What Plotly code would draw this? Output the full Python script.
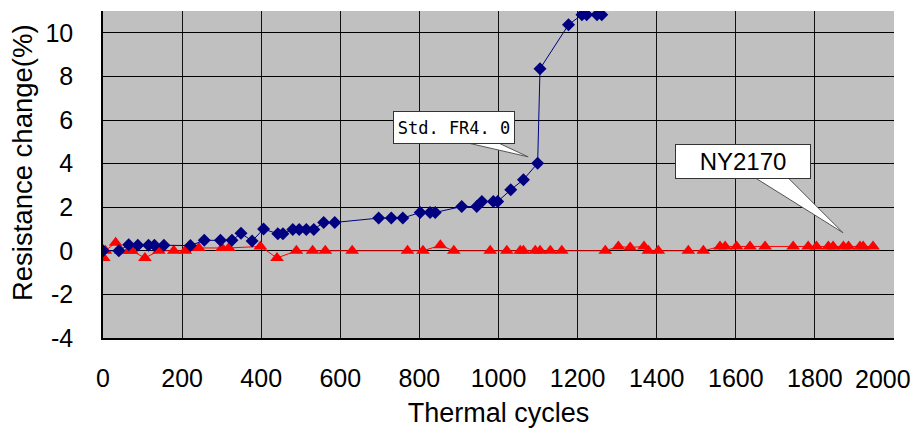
import plotly.graph_objects as go

# Std. FR4 (blue diamonds)
fr4_cycles = [0, 40, 65, 88, 115, 130, 154, 221, 256, 297, 326, 349, 377, 406, 442, 455,
              480, 496, 514, 533, 558, 586, 697, 729, 758, 802, 827, 840, 907, 945, 958,
              987, 998, 1031, 1063, 1099, 1105, 1177, 1211, 1223, 1249, 1261, 1268]
fr4_change = [0.0, 0.0, 0.28, 0.26, 0.26, 0.26, 0.26, 0.24, 0.48, 0.48, 0.48, 0.8, 0.45,
              1.0, 0.78, 0.78, 0.98, 0.98, 0.98, 0.98, 1.3, 1.3, 1.5, 1.5, 1.5, 1.76, 1.76,
              1.76, 2.03, 2.03, 2.26, 2.26, 2.26, 2.8, 3.26, 4.02, 8.35, 10.37, 10.83,
              10.83, 10.83, 10.83, 14.0]

# NY2170 (red triangles)
ny_cycles = [2, 6, 32, 45, 65, 73, 106, 141, 179, 208, 242, 301, 318, 398, 440, 489, 530,
             562, 630, 770, 809, 853, 887, 979, 1021, 1055, 1063, 1093, 1105, 1131, 1160,
             1270, 1303, 1333, 1368, 1379, 1404, 1480, 1518, 1560, 1573, 1602, 1636, 1674,
             1745, 1783, 1804, 1834, 1846, 1872, 1885, 1914, 1922, 1947]
ny_change = [-0.33, 0.0, 0.37, 0.0, 0.0, 0.0, -0.33, 0.0, 0.0, 0.0, 0.13, 0.13, 0.13, 0.2,
             -0.33, 0.0, 0.0, 0.0, 0.0, 0.0, 0.0, 0.25, 0.0, 0.0, 0.0, 0.0, 0.0, 0.0, 0.0,
             0.0, 0.0, 0.0, 0.2, 0.15, 0.2, 0.0, 0.0, 0.0, 0.0, 0.2, 0.2, 0.2, 0.2, 0.2,
             0.2, 0.2, 0.2, 0.2, 0.2, 0.2, 0.2, 0.2, 0.2, 0.2]

x_ticks = [0, 200, 400, 600, 800, 1000, 1200, 1400, 1600, 1800, 2000]
x_tick_labels = ["0", "200", "400", "600", "800", "1000", "1200", "1400", "1600", "1800", ""]
last_x_label = "2000"   # drawn separately, nudged left so it stays inside the page
y_ticks = [-4, -2, 0, 2, 4, 6, 8, 10]

# callout targets (data coords)
fr4_label_at = (1075, 4.31)
ny_label_at = (1871, 0.83)

fig = go.Figure()
fig.add_trace(go.Scatter(
    x=ny_cycles, y=ny_change, mode="lines+markers", name="NY2170",
    line=dict(color="#FF0000", width=1),
    marker=dict(symbol="triangle-up", size=12, color="#FF0000"),
))
fig.add_trace(go.Scatter(
    x=fr4_cycles, y=fr4_change, mode="lines+markers", name="Std. FR4",
    line=dict(color="#000080", width=1),
    marker=dict(symbol="diamond", size=10, color="#000080"),
))

font_main = "Liberation Sans, Arial, sans-serif"

# callout wedges (pixel-sized, anchored on the target point)
for (tx, ty), path in [
    (fr4_label_at, "M0,0 L-61,14 L-30,14 Z"),
    (ny_label_at, "M0,0 L-88,55 L-55,55 Z"),
]:
    fig.add_shape(
        type="path", xref="x", yref="y", xsizemode="pixel", ysizemode="pixel",
        xanchor=tx, yanchor=ty, path=path,
        fillcolor="white", line=dict(color="#555555", width=1), layer="above",
    )

fig.add_annotation(
    x=fr4_label_at[0], y=fr4_label_at[1], xref="x", yref="y", text="Std. FR4. 0",
    showarrow=False, xshift=-74, yshift=29.5,
    bgcolor="white", bordercolor="#333333", borderwidth=1,
    width=118, height=29,
    font=dict(family="DejaVu Sans Mono, monospace", size=17, color="black"),
)
fig.add_annotation(
    x=ny_label_at[0], y=ny_label_at[1], xref="x", yref="y", text="NY2170",
    showarrow=False, xshift=-100, yshift=71.5,
    bgcolor="white", bordercolor="#333333", borderwidth=1,
    width=132, height=31,
    font=dict(family=font_main, size=24, color="black"),
)
# last x tick label
fig.add_annotation(
    x=x_ticks[-1], y=0, xref="x", yref="paper", text=last_x_label,
    showarrow=False, xanchor="center", yanchor="middle", xshift=-11, yshift=-41,
    font=dict(family=font_main, size=25, color="black"),
)
# y-axis title
fig.add_annotation(
    x=0, y=0.535, xref="paper", yref="paper", text="Resistance change(%)",
    textangle=-90, showarrow=False, xanchor="center", yanchor="middle", xshift=-81,
    font=dict(family=font_main, size=27.5, color="black"),
)

# page body adds an 8px offset, so the figure is 8px smaller and shifted
fig.update_layout(
    width=913, height=425,
    margin=dict(l=94.5, r=27, t=3, b=95),
    paper_bgcolor="white", plot_bgcolor="#C0C0C0",
    showlegend=False,
    font=dict(family=font_main, color="black"),
)
fig.update_xaxes(
    range=[0, 2000], tickvals=x_ticks, ticktext=x_tick_labels,
    showgrid=True, gridcolor="#111111", gridwidth=1,
    showline=True, linecolor="black", linewidth=1.5,
    zeroline=False, ticks="", ticklabelstandoff=17, automargin=False,
    tickfont=dict(size=25, family=font_main),
    title=dict(text="Thermal cycles", font=dict(size=27, family=font_main), standoff=12),
)
fig.update_yaxes(
    range=[-4, 11], tickvals=y_ticks, ticktext=[str(v) for v in y_ticks],
    showgrid=True, gridcolor="black", gridwidth=1,
    showline=True, linecolor="black", linewidth=1.5,
    zeroline=True, zerolinecolor="black", zerolinewidth=1,
    ticks="", ticklabelstandoff=23, automargin=False,
    tickfont=dict(size=25, family=font_main),
)

fig.write_html("out.html")
